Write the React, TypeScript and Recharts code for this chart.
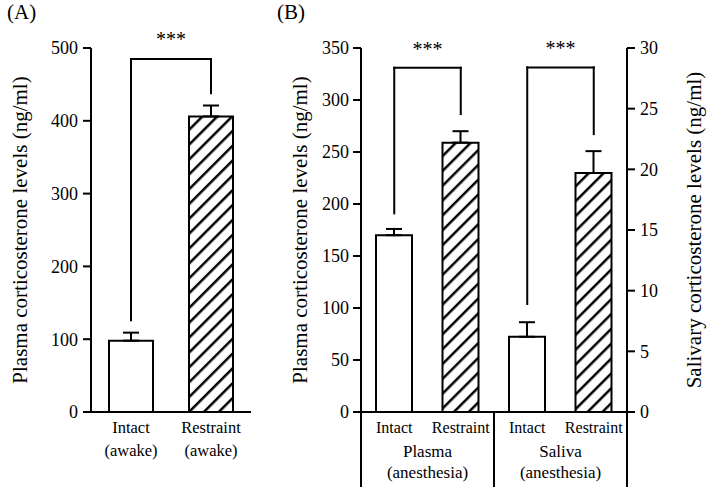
import React from "react";
import { BarChart, Bar, XAxis, YAxis, Cell, ErrorBar, ReferenceLine } from "recharts";

const FONT = "'Liberation Serif', 'Times New Roman', Times, serif";

// (A) awake
const awakeGroups = ["Intact (awake)", "Restraint (awake)"];
const awakeLabels = [["Intact", "(awake)"], ["Restraint", "(awake)"]];
const awakeMeans = [98, 406];
const awakeSem = [11, 15];
const awakeHatched = [false, true];
const awakeTicks = [0, 100, 200, 300, 400, 500];
// significance bracket: top, left leg end, right leg end
const awakeBracket = [485, 126, 438];

// (B) anesthesia
const anesGroups = ["Plasma Intact", "Plasma Restraint", "Saliva Intact", "Saliva Restraint"];
const anesLabels = ["Intact", "Restraint", "Intact", "Restraint"];
const anesSections = [["Plasma", "(anesthesia)"], ["Saliva", "(anesthesia)"]];
const anesHatched = [false, true, false, true];
const plasmaMeans = [170, 259, null, null];
const plasmaSem = [6, 11, null, null];
const salivaMeans = [null, null, 6.2, 19.7];
const salivaSem = [null, null, 1.2, 1.8];
const plasmaTicks = [0, 50, 100, 150, 200, 250, 300, 350];
const salivaTicks = [0, 5, 10, 15, 20, 25, 30];
const plasmaBracket = [331, 191, 286.5];
const salivaBracket = [28.4, 8.9, 22.9];

const awakeData = awakeGroups.map((group, i) => ({
  group,
  mean: awakeMeans[i],
  err: [0, awakeSem[i]],
}));

const anesData = anesGroups.map((group, i) => ({
  group,
  plasma: plasmaMeans[i],
  plasmaErr: plasmaSem[i] == null ? null : [0, plasmaSem[i]],
  saliva: salivaMeans[i],
  salivaErr: salivaSem[i] == null ? null : [0, salivaSem[i]],
}));

const axisStyle = { stroke: "#000", strokeWidth: 2 };
const fontStyle = { fontFamily: FONT };
const tickText = { fill: "#000", fontSize: 18, fontFamily: FONT, style: fontStyle };
const starLabel = (offset: number) => ({
  value: "***",
  position: "top" as const,
  offset,
  fill: "#000",
  fontSize: 20,
  fontFamily: FONT,
  style: fontStyle,
});

const H = 487;
const A_W = 260;
const A_MARGIN = { top: 48, right: 9, bottom: 15, left: 31 };
const B_W = 458;
const B_MARGIN = { top: 48, right: 31, bottom: 15, left: 51 };
const B_BAND = (B_W - B_MARGIN.left - B_MARGIN.right - 60 - 50) / anesGroups.length;

function SideTitle(props: any) {
  const { viewBox, text, dx } = props;
  const cx = viewBox.x + dx;
  const cy = viewBox.y + viewBox.height / 2;
  return (
    <text
      x={cx}
      y={cy}
      transform={`rotate(-90 ${cx} ${cy})`}
      textAnchor="middle"
      dominantBaseline="central"
      fontSize={21}
      style={fontStyle}
      fill="#000"
    >
      {text}
    </text>
  );
}

function AwakeTick(props: any) {
  const { x, y, payload } = props;
  const i = awakeGroups.indexOf(payload.value);
  const lines = awakeLabels[i] || [];
  return (
    <g style={fontStyle} fontSize={16.5} fill="#000">
      <text x={x} y={y + 21} textAnchor="middle">{lines[0]}</text>
      <text x={x} y={y + 44} textAnchor="middle">{lines[1]}</text>
    </g>
  );
}

function AnesTick(props: any) {
  const { x, y, payload } = props;
  const i = anesGroups.indexOf(payload.value);
  const half = B_BAND / 2;
  const section = i % 2 === 0 ? anesSections[i / 2] : null;
  return (
    <g style={fontStyle} fill="#000">
      <text x={x} y={y + 21} textAnchor="middle" fontSize={16}>{anesLabels[i]}</text>
      {section && (
        <>
          <text x={x + half} y={y + 45} textAnchor="middle" fontSize={17}>{section[0]}</text>
          <text x={x + half} y={y + 66} textAnchor="middle" fontSize={17}>{section[1]}</text>
        </>
      )}
      {i === 0 && <line x1={x - half} x2={x - half} y1={y} y2={y + 80} stroke="#000" strokeWidth={2} />}
      {i % 2 === 1 && <line x1={x + half} x2={x + half} y1={y} y2={y + 80} stroke="#000" strokeWidth={2} />}
    </g>
  );
}

const bracketLine = { stroke: "#000", strokeWidth: 2, strokeLinecap: "square" as const };

export default function App() {
  return (
    <div style={{ position: "absolute", left: 0, top: 0, width: 708, height: H, background: "#fff", overflow: "hidden", fontFamily: FONT }}>
      <svg width={0} height={0} style={{ position: "absolute" }}>
        <defs>
          <pattern id="hatch" patternUnits="userSpaceOnUse" width={10.5} height={10.5} patternTransform="rotate(45)">
            <rect width={10.5} height={10.5} fill="#fff" />
            <line x1={5} y1={0} x2={5} y2={10.5} stroke="#000" strokeWidth={2.5} />
          </pattern>
        </defs>
      </svg>

      <svg width={708} height={40} style={{ position: "absolute", left: 0, top: 0 }}>
        <text x={7} y={19} fontSize={21} style={fontStyle} fill="#000">(A)</text>
        <text x={277} y={19} fontSize={21} style={fontStyle} fill="#000">(B)</text>
      </svg>

      <div style={{ position: "absolute", left: 0, top: 0 }}>
        <BarChart width={A_W} height={H} data={awakeData} margin={A_MARGIN} barSize={44} style={fontStyle}>
          <XAxis
            dataKey="group"
            height={60}
            tickLine={false}
            tickSize={0}
            tickMargin={0}
            axisLine={axisStyle}
            tick={<AwakeTick />}
            interval={0}
          />
          <YAxis
            width={60}
            domain={[0, 500]}
            ticks={awakeTicks}
            interval={0}
            tickSize={8}
            tickMargin={5}
            axisLine={axisStyle}
            tickLine={axisStyle}
            tick={tickText}
            label={<SideTitle text="Plasma corticosterone levels (ng/ml)" dx={-11} />}
          />
          <Bar dataKey="mean" stroke="#000" strokeWidth={2} isAnimationActive={false}>
            {awakeData.map((d, i) => (
              <Cell key={d.group} fill={awakeHatched[i] ? "url(#hatch)" : "#fff"} />
            ))}
            <ErrorBar dataKey="err" direction="y" width={8} stroke="#000" strokeWidth={2} />
          </Bar>
          <ReferenceLine
            segment={[{ x: awakeGroups[0], y: awakeBracket[0] }, { x: awakeGroups[1], y: awakeBracket[0] }]}
            {...bracketLine}
            label={starLabel(13)}
          />
          <ReferenceLine segment={[{ x: awakeGroups[0], y: awakeBracket[0] }, { x: awakeGroups[0], y: awakeBracket[1] }]} {...bracketLine} />
          <ReferenceLine segment={[{ x: awakeGroups[1], y: awakeBracket[0] }, { x: awakeGroups[1], y: awakeBracket[2] }]} {...bracketLine} />
        </BarChart>
      </div>

      <div style={{ position: "absolute", left: 250, top: 0 }}>
        <BarChart width={B_W} height={H} data={anesData} margin={B_MARGIN} style={fontStyle}>
          <XAxis
            xAxisId="plasma"
            dataKey="group"
            height={60}
            tickLine={false}
            tickSize={0}
            tickMargin={0}
            axisLine={axisStyle}
            tick={<AnesTick />}
            interval={0}
          />
          <XAxis xAxisId="saliva" dataKey="group" hide />
          <YAxis
            yAxisId="left"
            width={60}
            domain={[0, 350]}
            ticks={plasmaTicks}
            interval={0}
            tickSize={8}
            tickMargin={4}
            axisLine={axisStyle}
            tickLine={axisStyle}
            tick={tickText}
            label={<SideTitle text="Plasma corticosterone levels (ng/ml)" dx={-1} />}
          />
          <YAxis
            yAxisId="right"
            orientation="right"
            width={50}
            domain={[0, 30]}
            ticks={salivaTicks}
            interval={0}
            tickSize={8}
            tickMargin={5}
            axisLine={axisStyle}
            tickLine={axisStyle}
            tick={tickText}
            label={<SideTitle text="Salivary corticosterone levels (ng/ml)" dx={67} />}
          />
          <Bar xAxisId="plasma" yAxisId="left" dataKey="plasma" barSize={36} stroke="#000" strokeWidth={2} isAnimationActive={false}>
            {anesData.map((d, i) => (
              <Cell key={d.group} fill={anesHatched[i] ? "url(#hatch)" : "#fff"} />
            ))}
            <ErrorBar dataKey="plasmaErr" direction="y" width={8} stroke="#000" strokeWidth={2} />
          </Bar>
          <Bar xAxisId="saliva" yAxisId="right" dataKey="saliva" barSize={36} stroke="#000" strokeWidth={2} isAnimationActive={false}>
            {anesData.map((d, i) => (
              <Cell key={d.group} fill={anesHatched[i] ? "url(#hatch)" : "#fff"} />
            ))}
            <ErrorBar dataKey="salivaErr" direction="y" width={8} stroke="#000" strokeWidth={2} />
          </Bar>

          <ReferenceLine
            xAxisId="plasma"
            yAxisId="left"
            segment={[{ x: anesGroups[0], y: plasmaBracket[0] }, { x: anesGroups[1], y: plasmaBracket[0] }]}
            {...bracketLine}
            label={starLabel(12)}
          />
          <ReferenceLine xAxisId="plasma" yAxisId="left" segment={[{ x: anesGroups[0], y: plasmaBracket[0] }, { x: anesGroups[0], y: plasmaBracket[1] }]} {...bracketLine} />
          <ReferenceLine xAxisId="plasma" yAxisId="left" segment={[{ x: anesGroups[1], y: plasmaBracket[0] }, { x: anesGroups[1], y: plasmaBracket[2] }]} {...bracketLine} />

          <ReferenceLine
            xAxisId="saliva"
            yAxisId="right"
            segment={[{ x: anesGroups[2], y: salivaBracket[0] }, { x: anesGroups[3], y: salivaBracket[0] }]}
            {...bracketLine}
            label={starLabel(12)}
          />
          <ReferenceLine xAxisId="saliva" yAxisId="right" segment={[{ x: anesGroups[2], y: salivaBracket[0] }, { x: anesGroups[2], y: salivaBracket[1] }]} {...bracketLine} />
          <ReferenceLine xAxisId="saliva" yAxisId="right" segment={[{ x: anesGroups[3], y: salivaBracket[0] }, { x: anesGroups[3], y: salivaBracket[2] }]} {...bracketLine} />
        </BarChart>
      </div>
    </div>
  );
}
